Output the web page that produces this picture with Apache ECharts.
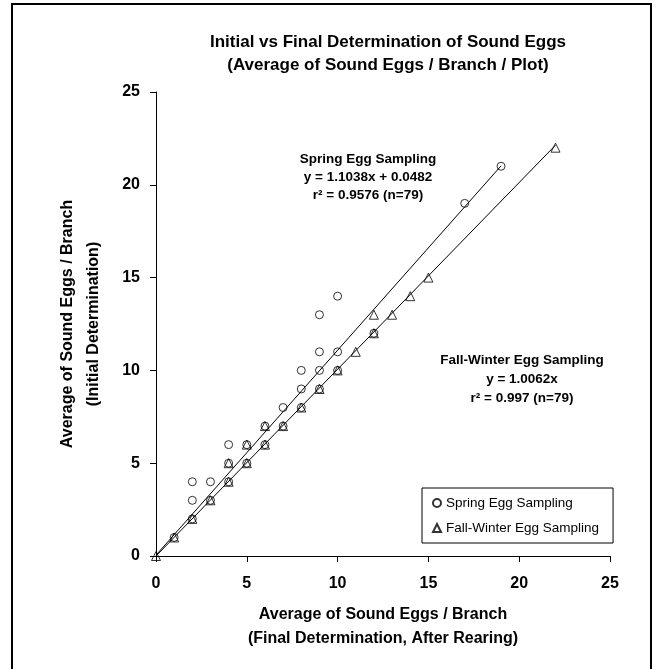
<!DOCTYPE html>
<html>
<head>
<meta charset="utf-8">
<script src="https://cdn.jsdelivr.net/npm/echarts@6/dist/echarts.min.js"></script>
<style>
  html, body { margin: 0; padding: 0; background: #fff; }
  #chart { width: 656px; height: 669px; }
</style>
</head>
<body>
<div id="chart"></div>
<script>
  // spring sampling (final, initial)
  const springX = [1, 2, 2, 2, 3, 3, 4, 4, 4, 5, 5, 6, 6, 7, 7, 8, 8, 8, 9, 9, 9, 9, 10, 10, 10, 12, 17, 19];
  const springY = [1, 2, 3, 4, 3, 4, 4, 5, 6, 5, 6, 6, 7, 7, 8, 8, 9, 10, 9, 10, 11, 13, 10, 11, 14, 12, 19, 21];
  // fall-winter sampling
  const fallX = [0, 1, 2, 3, 4, 4, 5, 5, 6, 6, 7, 8, 9, 10, 11, 12, 12, 13, 14, 15, 22];
  const fallY = [0, 1, 2, 3, 4, 5, 5, 6, 6, 7, 7, 8, 9, 10, 11, 12, 13, 13, 14, 15, 22];
  // regression fits: [slope, intercept, xmax]
  const springFit = [1.1038, 0.0482, 19];
  const fallFit = [1.0062, 0, 22];
  const axisTicks = [0, 25, 5];

  const FONT = "'Liberation Sans', Arial, sans-serif";
  const zip = (xs, ys) => xs.map((x, i) => [x, ys[i]]);
  const fitLine = (f) => [[0, f[1]], [f[2], f[0] * f[2] + f[1]]];

  const chart = echarts.init(document.getElementById('chart'));

  const axisCommon = {
    type: 'value',
    min: axisTicks[0],
    max: axisTicks[1],
    interval: axisTicks[2],
    splitLine: { show: false },
    axisLine: { lineStyle: { color: '#000', width: 1 } },
    axisTick: { inside: false, length: 6, lineStyle: { color: '#000' } },
    nameLocation: 'middle',
    nameTextStyle: { fontFamily: FONT, fontSize: 16, fontWeight: 'bold', color: '#000', lineHeight: 24 }
  };

  const option = {
    backgroundColor: '#fff',
    animation: false,
    title: {
      text: 'Initial vs Final Determination of Sound Eggs\n(Average of Sound Eggs / Branch / Plot)',
      left: 383,
      textAlign: 'center',
      top: 26,
      textStyle: { fontFamily: FONT, fontSize: 17, fontWeight: 'bold', color: '#000', lineHeight: 23 }
    },
    grid: { left: 156, top: 92, width: 454, height: 464 },
    xAxis: Object.assign({}, axisCommon, {
      name: 'Average of Sound Eggs / Branch\n(Final Determination, After Rearing)',
      nameGap: 47,
      axisLabel: { fontFamily: FONT, fontSize: 16, fontWeight: 'bold', color: '#000', margin: 20 }
    }),
    yAxis: Object.assign({}, axisCommon, {
      name: 'Average of Sound Eggs / Branch\n(Initial Determination)',
      nameGap: 49,
      nameTextStyle: Object.assign({}, axisCommon.nameTextStyle, { lineHeight: 26 }),
      axisLabel: { fontFamily: FONT, fontSize: 16, fontWeight: 'bold', color: '#000', margin: 16 }
    }),
    legend: {
      data: ['Spring Egg Sampling', 'Fall-Winter Egg Sampling'],
      orient: 'vertical',
      left: 422,
      top: 488,
      borderColor: '#000',
      borderWidth: 1,
      borderRadius: 0,
      padding: [8, 14, 8, 10],
      itemGap: 11,
      itemWidth: 8,
      itemHeight: 8,
      textStyle: { fontFamily: FONT, fontSize: 13.5, color: '#000' }
    },
    series: [
      {
        name: 'spring fit',
        type: 'line',
        data: fitLine(springFit),
        showSymbol: false,
        silent: true,
        lineStyle: { color: '#000', width: 1 },
        z: 1
      },
      {
        name: 'fall fit',
        type: 'line',
        data: fitLine(fallFit),
        showSymbol: false,
        silent: true,
        lineStyle: { color: '#000', width: 1 },
        z: 1
      },
      {
        name: 'Spring Egg Sampling',
        type: 'scatter',
        data: zip(springX, springY),
        symbol: 'circle',
        symbolSize: 8,
        itemStyle: { color: 'rgba(255,255,255,0)', borderColor: '#000', borderWidth: 1 },
        z: 3
      },
      {
        name: 'Fall-Winter Egg Sampling',
        type: 'scatter',
        data: zip(fallX, fallY),
        symbol: 'triangle',
        symbolSize: 9,
        itemStyle: { color: 'rgba(255,255,255,0)', borderColor: '#000', borderWidth: 1 },
        z: 4
      }
    ],
    graphic: [
      {
        type: 'rect',
        shape: { x: 12, y: 4, width: 639, height: 690 },
        style: { fill: null, stroke: '#000', lineWidth: 2 },
        silent: true
      },
      {
        type: 'text',
        x: 368, y: 150,
        style: {
          text: 'Spring Egg Sampling\ny = 1.1038x + 0.0482\nr² = 0.9576 (n=79)',
          fontFamily: FONT, fontSize: 13.5, fontWeight: 'bold', fill: '#000',
          align: 'center', lineHeight: 18
        }
      },
      {
        type: 'text',
        x: 522, y: 351,
        style: {
          text: 'Fall-Winter Egg Sampling\ny = 1.0062x\nr² = 0.997 (n=79)',
          fontFamily: FONT, fontSize: 13.5, fontWeight: 'bold', fill: '#000',
          align: 'center', lineHeight: 19
        }
      }
    ]
  };

  chart.setOption(option);
</script>
</body>
</html>
